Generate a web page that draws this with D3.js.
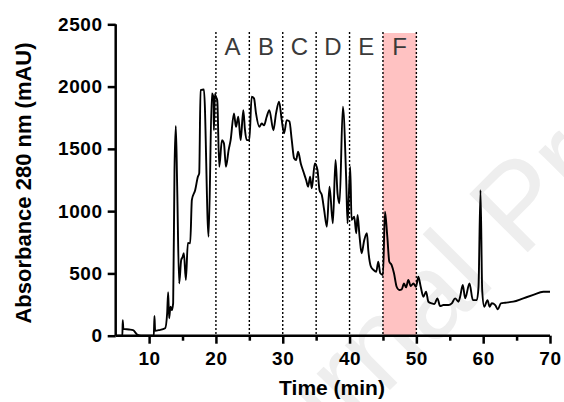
<!DOCTYPE html>
<html>
<head>
<meta charset="utf-8">
<script src="https://cdn.jsdelivr.net/npm/d3@7"></script>
<style>
  body { margin: 0; background: #fff; }
  svg { display: block; }
</style>
</head>
<body>
<div id="chart"></div>
<script>
// chromatogram trace (time in min, absorbance in mAU)
var times = [5.2, 6.0, 6.05, 6.15, 7.0, 7.6, 8.2, 8.8, 10.7, 10.8, 10.9, 11.5, 12.4, 12.7, 12.85, 13.0,
  13.2, 13.4, 13.6, 13.8, 14.0, 14.2, 14.5, 14.8, 15.0, 15.2, 15.5, 15.8, 16.15, 16.4, 16.9, 17.3,
  17.5, 17.7, 18.2, 18.9, 19.4, 19.6, 19.7, 19.85, 20.0, 20.2, 20.5, 20.9, 21.2, 21.5, 21.9, 22.2,
  22.7, 23.0, 23.35, 23.7, 24.1, 24.35, 24.6, 25.0, 25.35, 25.7, 26.0, 26.5, 26.85, 27.2, 27.6, 28.0,
  28.6, 29.0, 29.45, 29.85, 30.2, 30.6, 31.0, 31.35, 31.7, 32.0, 32.3, 32.7, 33.1, 33.5, 33.8, 34.1,
  34.35, 34.8, 35.2, 35.5, 35.85, 36.2, 36.6, 37.0, 37.5, 37.9, 38.2, 38.5, 39.0, 39.5, 39.7, 40.1,
  40.3, 40.7, 41.0, 41.2, 41.5, 41.8, 42.2, 42.6, 42.8, 43.2, 43.6, 44.0, 44.3, 44.6, 45.0, 45.3,
  45.65, 45.95, 46.3, 46.65, 47.05, 47.45, 47.8, 48.15, 48.45, 48.8, 49.15, 49.55, 49.95, 50.3, 50.65, 51.05,
  51.45, 51.8, 52.3, 52.7, 53.15, 53.55, 54.05, 54.8, 55.3, 55.8, 56.3, 56.55, 56.95, 57.3, 57.95, 58.45,
  59.05, 59.3, 59.6, 59.85, 60.15, 60.65, 60.95, 61.3, 61.8, 62.2, 62.65, 63.3, 64.5, 66.0, 67.5, 69.0, 70.0];
var absorbance = [0, 0, 125, 55, 50, 45, 10, 0, 0, 158, 40, 45, 60, 180, 350, 140,
  233, 205, 262, 1330, 1683, 1200, 420, 607, 630, 663, 447, 744, 742, 1090, 1170, 1276,
  1303, 1972, 1977, 795, 1945, 1920, 1650, 1940, 1918, 1890, 1356, 1570, 1544, 1356, 1490, 1570,
  1785, 1677, 1758, 1570, 1811, 1650, 1570, 1570, 1918, 1905, 1785, 1677, 1704, 1690, 1758, 1811,
  1650, 1785, 1878, 1731, 1624, 1731, 1720, 1570, 1424, 1410, 1477, 1383, 1316, 1250, 1196, 1276,
  1183, 1383, 1330, 1169, 1129, 1009, 875, 1196, 902, 1410, 1143, 1063, 1838, 1250, 902, 1356,
  929, 955, 822, 969, 795, 661, 768, 822, 688, 554, 527, 514, 594, 501, 487, 995,
  795, 594, 567, 501, 393, 367, 372, 420, 388, 447, 399, 420, 393, 474, 393, 313,
  353, 273, 260, 255, 300, 238, 246, 246, 260, 300, 273, 313, 407, 300, 420, 286,
  286, 393, 1169, 367, 233, 286, 233, 260, 246, 212, 260, 265, 273, 300, 327, 353, 353];

// fraction boundaries and labels
var fractionEdges = [20, 25, 30, 35, 40, 45, 50];
var fractionNames = ["A", "B", "C", "D", "E", "F"];
var highlighted = [45, 50];   // fraction F

var xMajorTicks = [10, 20, 30, 40, 50, 60, 70];
var xMinorTicks = [15, 25, 35, 45, 55, 65];
var yTicks = [0, 500, 1000, 1500, 2000, 2500];

var width = 564, height = 402;
var font = "Arial, 'Liberation Sans', sans-serif";

var svg = d3.select("#chart").append("svg")
    .attr("width", width)
    .attr("height", height);

// faint watermark in the background
svg.append("text")
    .attr("transform", "translate(219,561) rotate(-45)")
    .style("font-family", font)
    .style("font-size", "120px")
    .style("fill", "#eeeeee")
    .text("Journal Pre-proof");

var x = d3.scaleLinear().domain([5, 70]).range([115.7, 550]);
var y = d3.scaleLinear().domain([0, 2500]).range([335.7, 24.3]);

// highlighted fraction band
svg.append("rect")
    .attr("x", x(highlighted[0]))
    .attr("y", 33)
    .attr("width", x(highlighted[1]) - x(highlighted[0]))
    .attr("height", y(0) - 33)
    .style("fill", "#ffc2c2");

// dotted fraction dividers
svg.selectAll(".divider")
  .data(fractionEdges)
  .enter().append("line")
    .attr("class", "divider")
    .attr("x1", function(d) { return x(d); })
    .attr("x2", function(d) { return x(d); })
    .attr("y1", 32)
    .attr("y2", y(0))
    .style("stroke", "#000")
    .style("stroke-width", 1.4)
    .style("stroke-dasharray", "2,2");

// fraction letters
svg.selectAll(".fraction")
  .data(fractionNames)
  .enter().append("text")
    .attr("class", "fraction")
    .attr("x", function(d, i) { return x((fractionEdges[i] + fractionEdges[i + 1]) / 2); })
    .attr("y", 55)
    .attr("text-anchor", "middle")
    .style("font-family", font)
    .style("font-size", "24px")
    .style("fill", "#3a3a3a")
    .text(function(d) { return d; });

// the trace
var line = d3.line()
    .x(function(d) { return x(d[0]); })
    .y(function(d) { return y(d[1]); })
    .curve(d3.curveMonotoneX);

svg.append("path")
    .datum(d3.zip(times, absorbance))
    .attr("d", line)
    .style("fill", "none")
    .style("stroke", "#000")
    .style("stroke-width", 1.9)
    .style("stroke-linejoin", "round");

// x axis: major ticks with labels, minor ticks without
var xAxis = svg.append("g")
    .attr("transform", "translate(0," + y(0) + ")")
    .call(d3.axisBottom(x).tickValues(xMajorTicks).tickSize(8).tickPadding(8).tickFormat(d3.format("d")));
svg.append("g")
    .attr("transform", "translate(0," + y(0) + ")")
    .call(d3.axisBottom(x).tickValues(xMinorTicks).tickSize(5).tickFormat(""))
    .select(".domain").remove();

var yAxis = svg.append("g")
    .attr("transform", "translate(" + x(5) + ",0)")
    .call(d3.axisLeft(y).tickValues(yTicks).tickSize(8).tickPadding(5).tickFormat(d3.format("d")));

svg.selectAll(".domain, .tick line")
    .style("stroke", "#000")
    .style("stroke-width", 2.5);
xAxis.select(".domain").attr("d", "M" + x(5) + ",0H" + x(70));
yAxis.select(".domain").attr("d", "M0," + y(0) + "V" + y(2500));

svg.selectAll(".tick text")
    .style("font-family", font)
    .style("font-size", "19px")
    .style("font-weight", "bold")
    .style("letter-spacing", "0.6px")
    .style("fill", "#000");

// axis titles
svg.append("text")
    .attr("x", 332)
    .attr("y", 395)
    .attr("text-anchor", "middle")
    .style("font-family", font)
    .style("font-size", "21px")
    .style("font-weight", "bold")
    .text("Time (min)");

svg.append("text")
    .attr("transform", "translate(31,183) rotate(-90)")
    .attr("text-anchor", "middle")
    .style("font-family", font)
    .style("font-size", "22px")
    .style("font-weight", "bold")
    .text("Absorbance 280 nm (mAU)");
</script>
</body>
</html>
